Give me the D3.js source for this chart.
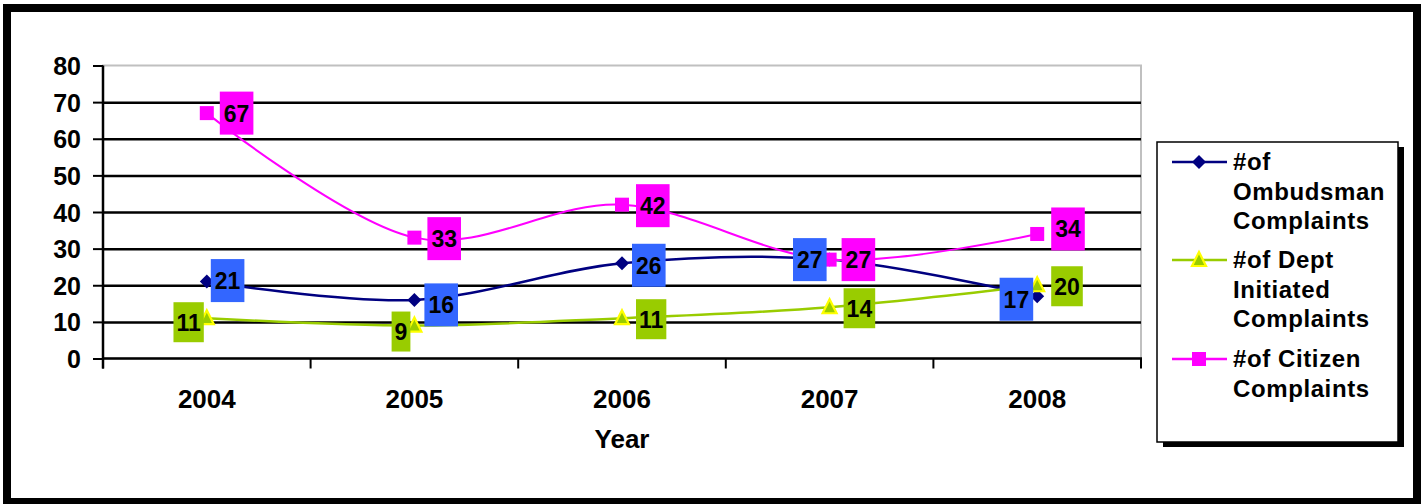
<!DOCTYPE html>
<html>
<head>
<meta charset="utf-8">
<script src="https://cdn.jsdelivr.net/npm/d3@7"></script>
<style>
  body { margin: 0; background: #fff; }
  text { font-family: "Liberation Sans", Arial, sans-serif; font-weight: bold; fill: #000; }
</style>
</head>
<body>
<svg id="chart" width="1427" height="504"></svg>
<script>
// data
const years = ["2004", "2005", "2006", "2007", "2008"];
const ombudsman = [21, 16, 26, 27, 17];
const deptInitiated = [11, 9, 11, 14, 20];
const citizen = [67, 33, 42, 27, 34];
const yTicks = [0, 10, 20, 30, 40, 50, 60, 70, 80];
const legendLabels = [
  ["#of", "Ombudsman", "Complaints"],
  ["#of Dept", "Initiated", "Complaints"],
  ["#of Citizen", "Complaints"]
];
const xTitle = "Year";

// where each data label sits next to its point (hand placed in the original)
const labelSide = [["R","R","R","L","L"], ["L","L","R","R","R"], ["R","R","R","R","R"]];
const labelGap = [[4,10,10,3,4], [3,4,14,14,14], [13,13,14,12,14]];
const labelNudge = [[-1,5,2,0,3], [4,6,1,1,1], [0,1,1,0,-5]];

const svg = d3.select("#chart");
const plot = {left: 103, right: 1141, top: 65.5, bottom: 358.5};

const x = d3.scaleBand().domain(years).range([plot.left, plot.right]);
const cx = d => x(d) + x.bandwidth() / 2;
const y = d3.scaleLinear().domain([0, 80]).range([plot.bottom, plot.top]);

// outer frame
svg.append("rect")
  .attr("x", 7).attr("y", 8).attr("width", 1410).attr("height", 494)
  .attr("fill", "#fff").attr("stroke", "#000").attr("stroke-width", 8);

// plot area border
svg.append("rect")
  .attr("x", plot.left).attr("y", plot.top)
  .attr("width", plot.right - plot.left).attr("height", plot.bottom - plot.top)
  .attr("fill", "#fff").attr("stroke", "#c0c0c0").attr("stroke-width", 2);

// gridlines
svg.append("g")
  .attr("transform", `translate(${plot.left},0)`)
  .call(d3.axisLeft(y).tickValues(yTicks.slice(1, -1)).tickSize(-(plot.right - plot.left)).tickFormat(""))
  .call(g => g.select(".domain").remove())
  .selectAll("line").attr("stroke", "#000").attr("stroke-width", 2.5);

// y axis
const yAxis = svg.append("g")
  .attr("transform", `translate(${plot.left},0)`)
  .call(d3.axisLeft(y).tickValues(yTicks).tickSize(10).tickPadding(12).tickSizeOuter(0));
yAxis.select(".domain").attr("stroke", "#000").attr("stroke-width", 2.5)
  .attr("d", `M0,${plot.top}V${plot.bottom + 10}`);
yAxis.selectAll(".tick line").attr("stroke", "#000").attr("stroke-width", 2);
yAxis.selectAll(".tick text").style("font-size", "25px").attr("dy", "0.36em");

// x axis line + boundary ticks
const xAxis = svg.append("g").attr("transform", `translate(0,${plot.bottom})`);
xAxis.append("line").attr("x1", plot.left).attr("x2", plot.right + 1)
  .attr("stroke", "#000").attr("stroke-width", 2.5);
xAxis.selectAll(".bt")
  .data(years.map(d => x(d)).concat([plot.right]))
  .join("line").attr("class", "bt")
  .attr("x1", d => d).attr("x2", d => d).attr("y1", 0).attr("y2", 10)
  .attr("stroke", "#000").attr("stroke-width", 2);
const xLabels = svg.append("g")
  .attr("transform", `translate(0,${plot.bottom})`)
  .call(d3.axisBottom(x).tickSize(0).tickPadding(31));
xLabels.select(".domain").remove();
xLabels.selectAll(".tick text").style("font-size", "26px");

svg.append("text").attr("x", (plot.left + plot.right) / 2).attr("y", 448)
  .attr("text-anchor", "middle").style("font-size", "26px").text(xTitle);

// series
const series = [
  {values: ombudsman, line: "#000080", box: "#3366ff", marker: "diamond", boxH: 43, pad: 4, lw: 2.5},
  {values: deptInitiated, line: "#99cc00", box: "#99cc00", marker: "triangle", boxH: 40, pad: 3, lw: 2.5},
  {values: citizen, line: "#ff00ff", box: "#ff00ff", marker: "square", boxH: 43, pad: 4, lw: 2}
];

function drawMarker(g, type, px, py) {
  if (type === "diamond") {
    g.append("path").attr("d", `M${px},${py - 7}L${px + 7},${py}L${px},${py + 7}L${px - 7},${py}Z`)
      .attr("fill", "#000080");
  } else if (type === "square") {
    g.append("rect").attr("x", px - 7).attr("y", py - 7).attr("width", 14).attr("height", 14)
      .attr("fill", "#ff00ff");
  } else {
    g.append("path").attr("d", `M${px},${py - 8}L${px + 7},${py + 6}L${px - 7},${py + 6}Z`)
      .attr("fill", "#99cc00").attr("stroke", "#ffff00").attr("stroke-width", 2.2)
      .attr("stroke-linejoin", "miter");
  }
}

const lineGen = d3.line()
  .x((d, i) => cx(years[i]))
  .y(d => y(d))
  .curve(d3.curveCardinal.tension(0));

series.forEach(s => {
  const g = svg.append("g");
  g.append("path").datum(s.values)
    .attr("d", lineGen).attr("fill", "none")
    .attr("stroke", s.line).attr("stroke-width", s.lw);
  s.values.forEach((v, i) => drawMarker(g, s.marker, cx(years[i]), y(v)));
});

// data labels
series.forEach((s, si) => {
  const g = svg.append("g");
  s.values.forEach((v, i) => {
    const px = cx(years[i]), py = y(v);
    const lg = g.append("g");
    const rect = lg.append("rect").attr("fill", s.box);
    const t = lg.append("text").style("font-size", "23px").attr("text-anchor", "middle").text(v);
    const tw = t.node().getComputedTextLength();
    const bw = tw + 2 * s.pad;
    const left = labelSide[si][i] === "R" ? px + labelGap[si][i] : px - labelGap[si][i] - bw;
    const mid = py + labelNudge[si][i];
    rect.attr("x", left).attr("y", mid - s.boxH / 2).attr("width", bw).attr("height", s.boxH);
    t.attr("x", left + bw / 2).attr("y", mid + 8.5);
  });
});

// legend
const legend = svg.append("g").attr("transform", "translate(1157,142)");
legend.append("rect").attr("x", 6).attr("y", 5).attr("width", 241).attr("height", 300).attr("fill", "#000");
legend.append("rect").attr("width", 241).attr("height", 300)
  .attr("fill", "#fff").attr("stroke", "#000").attr("stroke-width", 1.5);
const entryY = [20, 118, 217];
series.forEach((s, si) => {
  const eg = legend.append("g").attr("transform", `translate(0,${entryY[si]})`);
  eg.append("line").attr("x1", 15).attr("x2", 70).attr("y1", 0).attr("y2", 0)
    .attr("stroke", s.line).attr("stroke-width", 2.5);
  drawMarker(eg, s.marker, 42, 0);
  const t = eg.append("text").attr("x", 76).attr("y", 8)
    .style("font-size", "24px").style("letter-spacing", "0.6px");
  legendLabels[si].forEach((ln, k) => {
    t.append("tspan").attr("x", 76).attr("dy", k === 0 ? 0 : 29.5).text(ln);
  });
});
</script>
</body>
</html>
